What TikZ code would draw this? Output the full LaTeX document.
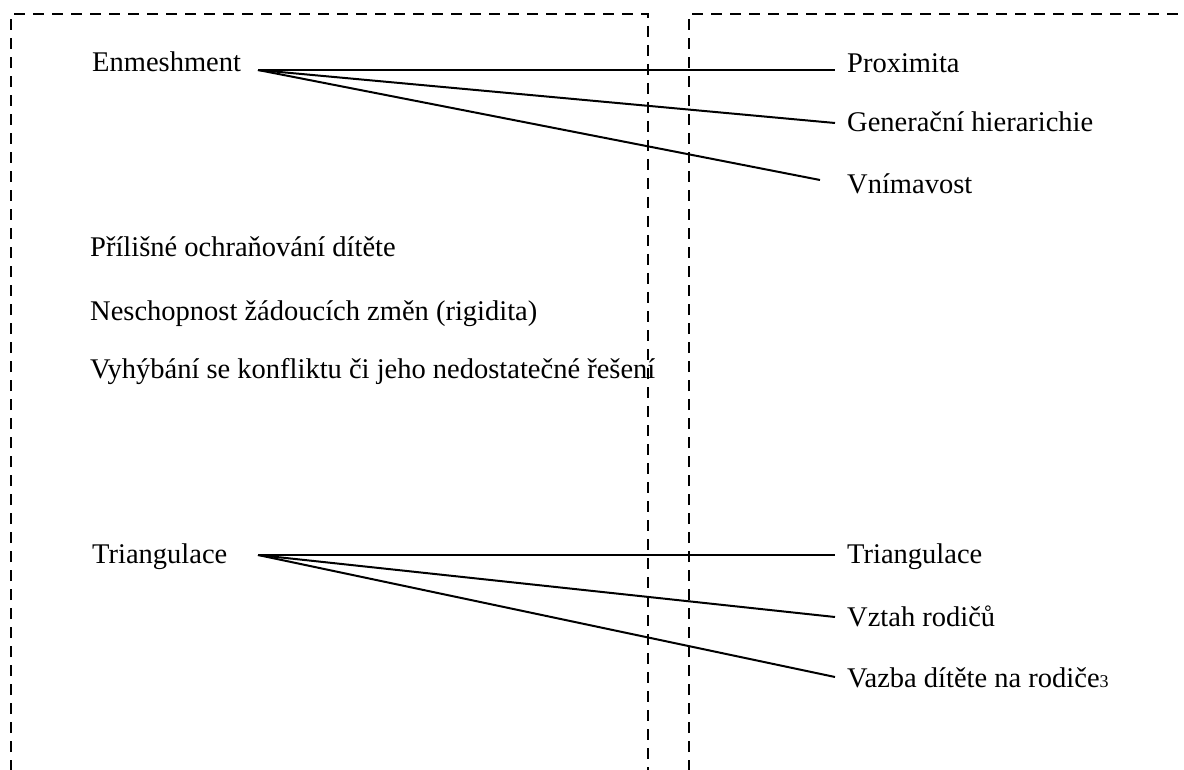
\documentclass[tikz,border=0pt]{standalone}
\usepackage{fontspec}
\setmainfont{Liberation Serif}
\usetikzlibrary{calc}
\begin{document}
\begin{tikzpicture}[x=1pt,y=-1pt,
  lbl/.style={anchor=base west,inner sep=0pt,font=\fontsize{28.5}{34}\selectfont},
  boxline/.style={line width=2.7pt,dash pattern=on 11pt off 8pt},
  conn/.style={line width=2pt}]
\useasboundingbox (0,0) rectangle (1184,770);
% dashed frames
\draw[boxline] (11,790) -- (11,14) -- (648,14) -- (648,790);
\draw[boxline] (689,790) -- (689,14) -- (1200,14);
% left labels
\node[lbl] (enm) at (92,72) {Enmeshment};
\node[lbl] (pril) at (90,257) {Přílišné ochraňování dítěte};
\node[lbl] (nesch) at (90,320) {Neschopnost žádoucích změn (rigidita)};
\node[lbl] (vyh) at (90,378) {Vyhýbání se konfliktu či jeho nedostatečné řešení};
\node[lbl] (triL) at (92,563) {Triangulace};
% right labels
\node[lbl] (prox) at (847,73) {Proximita};
\node[lbl] (gen) at (847,132) {Generační hierarichie};
\node[lbl] (vnim) at (847,194) {Vnímavost};
\node[lbl] (triR) at (847,563) {Triangulace};
\node[lbl] (vztah) at (847,626) {Vztah rodičů};
\node[lbl] (vazba) at (847,687) {Vazba dítěte na rodiče{\fontsize{18}{20}\selectfont 3}};
% connectors
\coordinate (enmO) at ($(enm.base west)+(166,-2)$);
\draw[conn] (enmO) -- ($(prox.base west)+(-12,-3)$);
\draw[conn] (enmO) -- ($(gen.base west)+(-12,-9)$);
\draw[conn] (enmO) -- ($(vnim.base west)+(-27,-14)$);
\coordinate (triO) at ($(triL.base west)+(166,-8)$);
\draw[conn] (triO) -- ($(triR.base west)+(-12,-8)$);
\draw[conn] (triO) -- ($(vztah.base west)+(-12,-9)$);
\draw[conn] (triO) -- ($(vazba.base west)+(-12,-10)$);
\end{tikzpicture}
\end{document}
